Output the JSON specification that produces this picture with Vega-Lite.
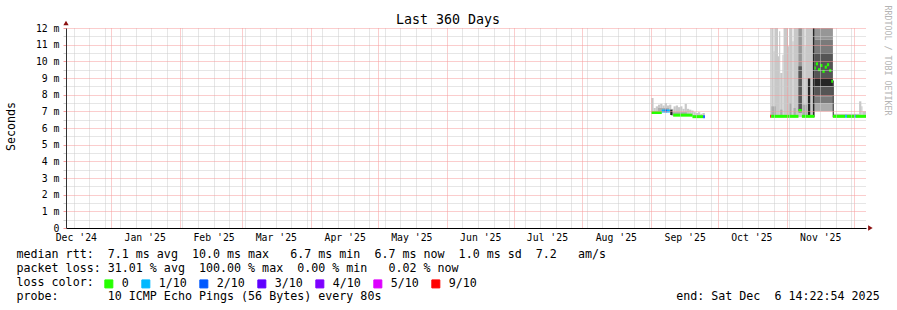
{
  "$schema": "https://vega.github.io/schema/vega-lite/v6.json",
  "width": 800,
  "height": 200,
  "autosize": {"type": "none"},
  "padding": {"left": 66, "top": 28, "right": 31, "bottom": 82},
  "background": "white",
  "title": {"text": "Last 360 Days", "font": "DejaVu Sans Mono", "fontSize": 13.3, "fontWeight": "normal", "color": "black", "anchor": "middle", "frame": "group", "dx": -18, "offset": 2, "baseline": "alphabetic", "dy": 34},
  "config": {"view": {"stroke": null}},
  "datasets": {
    "smoke": [
      {"t":"2025-09-01","t2":"2025-09-02","lo":6.9,"hi":7.8,"s":"l"},
      {"t":"2025-09-02","t2":"2025-09-03","lo":6.9,"hi":7.2,"s":"l"},
      {"t":"2025-09-03","t2":"2025-09-04","lo":6.9,"hi":7.3,"s":"l"},
      {"t":"2025-09-04","t2":"2025-09-05","lo":6.9,"hi":7.4,"s":"l"},
      {"t":"2025-09-05","t2":"2025-09-06","lo":6.95,"hi":7.45,"s":"l"},
      {"t":"2025-09-06","t2":"2025-09-07","lo":6.98,"hi":7.35,"s":"l"},
      {"t":"2025-09-07","t2":"2025-09-08","lo":6.98,"hi":7.5,"s":"l"},
      {"t":"2025-09-08","t2":"2025-09-09","lo":6.98,"hi":7.35,"s":"l"},
      {"t":"2025-09-09","t2":"2025-09-10","lo":6.95,"hi":7.4,"s":"l"},
      {"t":"2025-09-10","t2":"2025-09-11","lo":6.75,"hi":7.15,"s":"l"},
      {"t":"2025-09-11","t2":"2025-09-12","lo":6.72,"hi":7.3,"s":"l"},
      {"t":"2025-09-12","t2":"2025-09-13","lo":6.72,"hi":7.35,"s":"l"},
      {"t":"2025-09-13","t2":"2025-09-14","lo":6.72,"hi":7.25,"s":"l"},
      {"t":"2025-09-14","t2":"2025-09-15","lo":6.72,"hi":7.3,"s":"l"},
      {"t":"2025-09-15","t2":"2025-09-16","lo":6.72,"hi":7.15,"s":"l"},
      {"t":"2025-09-16","t2":"2025-09-17","lo":6.72,"hi":7.45,"s":"l"},
      {"t":"2025-09-17","t2":"2025-09-18","lo":6.72,"hi":7.15,"s":"l"},
      {"t":"2025-09-18","t2":"2025-09-19","lo":6.72,"hi":7.1,"s":"l"},
      {"t":"2025-09-19","t2":"2025-09-20","lo":6.7,"hi":7.05,"s":"l"},
      {"t":"2025-09-20","t2":"2025-09-21","lo":6.63,"hi":6.95,"s":"l"},
      {"t":"2025-09-21","t2":"2025-09-22","lo":6.63,"hi":6.9,"s":"l"},
      {"t":"2025-09-22","t2":"2025-09-23","lo":6.63,"hi":6.95,"s":"l"},
      {"t":"2025-09-23","t2":"2025-09-24","lo":6.63,"hi":6.85,"s":"l"},
      {"t":"2025-09-24","t2":"2025-09-25T02:00Z","lo":6.63,"hi":6.9,"s":"l"},
      {"t":"2025-10-24T12:00Z","t2":"2025-10-25","lo":6.65,"hi":12.5,"s":"l"},
      {"t":"2025-10-25","t2":"2025-10-26","lo":6.65,"hi":12.5,"s":"l"},
      {"t":"2025-10-26","t2":"2025-10-26T12:00Z","lo":6.65,"hi":10.6,"s":"l"},
      {"t":"2025-10-26T12:00Z","t2":"2025-10-28","lo":6.65,"hi":12.5,"s":"l"},
      {"t":"2025-10-28","t2":"2025-10-28T12:00Z","lo":6.65,"hi":10.3,"s":"l"},
      {"t":"2025-10-28T12:00Z","t2":"2025-10-29","lo":6.65,"hi":11.8,"s":"l"},
      {"t":"2025-10-29","t2":"2025-10-30","lo":6.65,"hi":9.3,"s":"l"},
      {"t":"2025-10-30","t2":"2025-10-30T12:00Z","lo":6.65,"hi":10.4,"s":"l"},
      {"t":"2025-10-30T12:00Z","t2":"2025-11-01T12:00Z","lo":6.65,"hi":12.5,"s":"l"},
      {"t":"2025-11-01T12:00Z","t2":"2025-11-02","lo":6.65,"hi":10.9,"s":"l"},
      {"t":"2025-11-02","t2":"2025-11-03T12:00Z","lo":6.65,"hi":12.5,"s":"l"},
      {"t":"2025-11-03T12:00Z","t2":"2025-11-04","lo":6.65,"hi":11.2,"s":"l"},
      {"t":"2025-11-04","t2":"2025-11-09","lo":6.65,"hi":12.5,"s":"l"},
      {"t":"2025-11-09","t2":"2025-11-09T12:00Z","lo":6.65,"hi":10.9,"s":"l"},
      {"t":"2025-11-09T12:00Z","t2":"2025-11-13T10:00Z","lo":6.65,"hi":12.5,"s":"l"},
      {"t":"2025-11-22T02:00Z","t2":"2025-12-03T12:00Z","lo":6.65,"hi":6.85,"s":"l"},
      {"t":"2025-12-03T12:00Z","t2":"2025-12-04T12:00Z","lo":6.65,"hi":7.6,"s":"l"},
      {"t":"2025-12-04T12:00Z","t2":"2025-12-05","lo":6.65,"hi":7.3,"s":"l"},
      {"t":"2025-12-05","t2":"2025-12-06T14:22:54Z","lo":6.65,"hi":7.0,"s":"l"},
      {"t":"2025-09-04","t2":"2025-09-09","lo":6.95,"hi":7.2,"s":"m"},
      {"t":"2025-09-10","t2":"2025-09-17","lo":6.75,"hi":6.95,"s":"m"},
      {"t":"2025-10-25","t2":"2025-10-27","lo":6.65,"hi":7.3,"s":"m"},
      {"t":"2025-10-29","t2":"2025-10-30","lo":6.65,"hi":7.1,"s":"m"},
      {"t":"2025-11-02","t2":"2025-11-03","lo":6.65,"hi":7.5,"s":"m"},
      {"t":"2025-11-04","t2":"2025-11-05","lo":6.65,"hi":7.2,"s":"m"},
      {"t":"2025-11-08","t2":"2025-11-10","lo":6.65,"hi":7.4,"s":"m"},
      {"t":"2025-11-22T02:00Z","t2":"2025-12-06T14:22:54Z","lo":6.65,"hi":6.76,"s":"m"},
      {"t":"2025-11-06T05:00Z","t2":"2025-11-07T18:00Z","lo":6.9,"hi":12.5,"s":"d"},
      {"t":"2025-11-06T05:00Z","t2":"2025-11-07T18:00Z","lo":7.0,"hi":9.7,"s":"e"},
      {"t":"2025-11-13T10:00Z","t2":"2025-11-21T17:00Z","lo":11.3,"hi":12.5,"s":"d"},
      {"t":"2025-11-13T10:00Z","t2":"2025-11-21T17:00Z","lo":10.5,"hi":11.3,"s":"n"},
      {"t":"2025-11-13T10:00Z","t2":"2025-11-21T17:00Z","lo":9.0,"hi":10.5,"s":"e"},
      {"t":"2025-11-13T10:00Z","t2":"2025-11-21T17:00Z","lo":8.5,"hi":9.0,"s":"k"},
      {"t":"2025-11-13T10:00Z","t2":"2025-11-21T17:00Z","lo":7.9,"hi":8.5,"s":"e"},
      {"t":"2025-11-13T10:00Z","t2":"2025-11-21T17:00Z","lo":7.5,"hi":7.9,"s":"n"},
      {"t":"2025-11-13T10:00Z","t2":"2025-11-21T17:00Z","lo":7.0,"hi":7.5,"s":"m"},
      {"t":"2025-09-09T12:00Z","t2":"2025-09-10T12:00Z","lo":6.78,"hi":7.1,"s":"k"},
      {"t":"2025-11-10T11:00Z","t2":"2025-11-11T12:00Z","lo":6.65,"hi":9.0,"s":"k"},
      {"t":"2025-11-12T17:00Z","t2":"2025-11-13T10:00Z","lo":6.65,"hi":12.5,"s":"k"},
      {"t":"2025-11-21T15:00Z","t2":"2025-11-22T02:00Z","lo":6.65,"hi":8.85,"s":"k"}
    ],
    "median": [
      {"t":"2025-09-01","t2":"2025-09-05T17:00Z","med":6.93,"loss":"0"},
      {"t":"2025-09-05T17:00Z","t2":"2025-09-07","med":7.02,"loss":"1/10"},
      {"t":"2025-09-07","t2":"2025-09-08","med":7.02,"loss":"2/10"},
      {"t":"2025-09-08","t2":"2025-09-09T08:00Z","med":7.02,"loss":"1/10"},
      {"t":"2025-09-10T20:00Z","t2":"2025-09-19T12:00Z","med":6.77,"loss":"0"},
      {"t":"2025-09-19T12:00Z","t2":"2025-09-24T08:00Z","med":6.68,"loss":"0"},
      {"t":"2025-09-24T08:00Z","t2":"2025-09-25T02:00Z","med":6.68,"loss":"2/10"},
      {"t":"2025-10-24T12:00Z","t2":"2025-10-24T22:00Z","med":6.7,"loss":"9/10"},
      {"t":"2025-10-24T22:00Z","t2":"2025-11-06T05:00Z","med":6.7,"loss":"0"},
      {"t":"2025-11-06T05:00Z","t2":"2025-11-07T18:00Z","med":7.05,"loss":"0"},
      {"t":"2025-11-07T18:00Z","t2":"2025-11-13T10:00Z","med":6.7,"loss":"0"},
      {"t":"2025-11-13T10:00Z","t2":"2025-11-14","med":9.6,"loss":"0"},
      {"t":"2025-11-14","t2":"2025-11-15","med":9.85,"loss":"0"},
      {"t":"2025-11-15","t2":"2025-11-16","med":9.5,"loss":"0"},
      {"t":"2025-11-16","t2":"2025-11-17","med":9.75,"loss":"0"},
      {"t":"2025-11-17","t2":"2025-11-18","med":9.4,"loss":"0"},
      {"t":"2025-11-18","t2":"2025-11-19","med":9.65,"loss":"0"},
      {"t":"2025-11-19","t2":"2025-11-20","med":9.8,"loss":"0"},
      {"t":"2025-11-20","t2":"2025-11-21","med":9.45,"loss":"0"},
      {"t":"2025-11-21","t2":"2025-11-21T17:00Z","med":8.8,"loss":"0"},
      {"t":"2025-11-21T17:00Z","t2":"2025-11-27T06:00Z","med":6.7,"loss":"0"},
      {"t":"2025-11-27T06:00Z","t2":"2025-11-28","med":6.7,"loss":"1/10"},
      {"t":"2025-11-28","t2":"2025-12-01T10:00Z","med":6.7,"loss":"0"},
      {"t":"2025-12-01T10:00Z","t2":"2025-12-02","med":6.7,"loss":"1/10"},
      {"t":"2025-12-02","t2":"2025-12-06T14:22:54Z","med":6.7,"loss":"0"}
    ],
    "arrowUp": [{"t":"2024-12-11T14:22:54Z","v":12.3}],
    "arrowRight": [{"t":"2025-12-08T14:00:00Z","v":0}]
  },
  "layer": [
    {
      "data": {"name": "smoke"},
      "mark": {"type": "rect", "clip": true},
      "encoding": {
        "x": {
          "field": "t", "type": "temporal",
          "scale": {"type": "utc", "domain": [{"year":2024,"month":12,"date":11,"hours":14,"minutes":22,"seconds":54,"utc":true},{"year":2025,"month":12,"date":6,"hours":14,"minutes":22,"seconds":54,"utc":true}]},
          "axis": {
            "tickCount": 500,
            "values": [
              {"year":2024,"month":12,"date":15,"utc":true},{"year":2024,"month":12,"date":16,"utc":true},{"year":2024,"month":12,"date":22,"utc":true},{"year":2024,"month":12,"date":29,"utc":true},
              {"year":2025,"month":1,"date":1,"utc":true},{"year":2025,"month":1,"date":5,"utc":true},{"year":2025,"month":1,"date":12,"utc":true},{"year":2025,"month":1,"date":16,"utc":true},{"year":2025,"month":1,"date":19,"utc":true},{"year":2025,"month":1,"date":26,"utc":true},
              {"year":2025,"month":2,"date":1,"utc":true},{"year":2025,"month":2,"date":2,"utc":true},{"year":2025,"month":2,"date":9,"utc":true},{"year":2025,"month":2,"date":16,"utc":true},{"year":2025,"month":2,"date":23,"utc":true},
              {"year":2025,"month":3,"date":1,"utc":true},{"year":2025,"month":3,"date":2,"utc":true},{"year":2025,"month":3,"date":9,"utc":true},{"year":2025,"month":3,"date":16,"utc":true},{"year":2025,"month":3,"date":23,"utc":true},{"year":2025,"month":3,"date":30,"utc":true},
              {"year":2025,"month":4,"date":1,"utc":true},{"year":2025,"month":4,"date":6,"utc":true},{"year":2025,"month":4,"date":13,"utc":true},{"year":2025,"month":4,"date":16,"utc":true},{"year":2025,"month":4,"date":20,"utc":true},{"year":2025,"month":4,"date":27,"utc":true},
              {"year":2025,"month":5,"date":1,"utc":true},{"year":2025,"month":5,"date":4,"utc":true},{"year":2025,"month":5,"date":11,"utc":true},{"year":2025,"month":5,"date":16,"utc":true},{"year":2025,"month":5,"date":18,"utc":true},{"year":2025,"month":5,"date":25,"utc":true},
              {"year":2025,"month":6,"date":1,"utc":true},{"year":2025,"month":6,"date":8,"utc":true},{"year":2025,"month":6,"date":15,"utc":true},{"year":2025,"month":6,"date":16,"utc":true},{"year":2025,"month":6,"date":22,"utc":true},{"year":2025,"month":6,"date":29,"utc":true},
              {"year":2025,"month":7,"date":1,"utc":true},{"year":2025,"month":7,"date":6,"utc":true},{"year":2025,"month":7,"date":13,"utc":true},{"year":2025,"month":7,"date":16,"utc":true},{"year":2025,"month":7,"date":20,"utc":true},{"year":2025,"month":7,"date":27,"utc":true},
              {"year":2025,"month":8,"date":1,"utc":true},{"year":2025,"month":8,"date":3,"utc":true},{"year":2025,"month":8,"date":10,"utc":true},{"year":2025,"month":8,"date":16,"utc":true},{"year":2025,"month":8,"date":17,"utc":true},{"year":2025,"month":8,"date":24,"utc":true},{"year":2025,"month":8,"date":31,"utc":true},
              {"year":2025,"month":9,"date":1,"utc":true},{"year":2025,"month":9,"date":7,"utc":true},{"year":2025,"month":9,"date":14,"utc":true},{"year":2025,"month":9,"date":16,"utc":true},{"year":2025,"month":9,"date":21,"utc":true},{"year":2025,"month":9,"date":28,"utc":true},
              {"year":2025,"month":10,"date":1,"utc":true},{"year":2025,"month":10,"date":5,"utc":true},{"year":2025,"month":10,"date":12,"utc":true},{"year":2025,"month":10,"date":16,"utc":true},{"year":2025,"month":10,"date":19,"utc":true},{"year":2025,"month":10,"date":26,"utc":true},
              {"year":2025,"month":11,"date":1,"utc":true},{"year":2025,"month":11,"date":2,"utc":true},{"year":2025,"month":11,"date":9,"utc":true},{"year":2025,"month":11,"date":16,"utc":true},{"year":2025,"month":11,"date":23,"utc":true},{"year":2025,"month":11,"date":30,"utc":true},
              {"year":2025,"month":12,"date":1,"utc":true}
            ],
            "labelExpr": "utcdate(datum.value) === 16 ? utcFormat(datum.value, \"%b '%y\") : ''",
            "labelFont": "DejaVu Sans Mono", "labelFontSize": 9.8, "labelColor": "black",
            "labelBaseline": "middle", "labelPadding": 9.5, "labelOverlap": false, "labelBound": false, "labelFlush": false,
            "ticks": false,
            "grid": true,
            "gridColor": {"condition": {"test": "utcdate(datum.value) === 1", "value": "#f79a9a"}, "value": "#cdcdcd"},
            "gridOpacity": {"condition": {"test": "utcdate(datum.value) === 16 && utcday(datum.value) !== 0", "value": 0}, "value": 1},
            "gridDash": [1, 1],
            "domainColor": "black", "domainWidth": 1,
            "title": [
              "median rtt:\u00a0\u00a07.1 ms avg\u00a0\u00a010.0 ms max\u00a0\u00a0\u00a06.7 ms min\u00a0\u00a06.7 ms now\u00a0\u00a01.0 ms sd\u00a0\u00a07.2\u00a0\u00a0\u00a0am/s",
              "packet loss: 31.01 % avg\u00a0\u00a0100.00 % max\u00a0\u00a00.00 % min\u00a0\u00a0\u00a00.02 % now",
              "loss color:",
              "probe:\u00a0\u00a0\u00a0\u00a0\u00a0\u00a0\u00a010 ICMP Echo Pings (56 Bytes) every 80s\u00a0\u00a0\u00a0\u00a0\u00a0\u00a0\u00a0\u00a0\u00a0\u00a0\u00a0\u00a0\u00a0\u00a0\u00a0\u00a0\u00a0\u00a0\u00a0\u00a0\u00a0\u00a0\u00a0\u00a0\u00a0\u00a0\u00a0\u00a0\u00a0\u00a0\u00a0\u00a0\u00a0\u00a0\u00a0\u00a0\u00a0\u00a0\u00a0\u00a0\u00a0\u00a0end: Sat Dec\u00a0\u00a06 14:22:54 2025"
            ],
            "titleX": -50, "titleY": 29, "titleAlign": "left", "titleAnchor": "start", "titleBaseline": "alphabetic",
            "titleFont": "DejaVu Sans Mono", "titleFontSize": 11.66, "titleFontWeight": "normal", "titleColor": "black", "titleLineHeight": 14, "titleLimit": 2000,
            "zindex": 1
          }
        },
        "x2": {"field": "t2"},
        "y": {
          "field": "lo", "type": "quantitative",
          "scale": {"domain": [0, 12], "nice": false, "zero": true},
          "axis": {
            "tickCount": 500,
            "values": [0,0.5,1,1.5,2,2.5,3,3.5,4,4.5,5,5.5,6,6.5,7,7.5,8,8.5,9,9.5,10,10.5,11,11.5,12],
            "labelExpr": "datum.value % 1 ? '' : (datum.value === 0 ? '0' : datum.value + ' m')",
            "labelFont": "DejaVu Sans Mono", "labelFontSize": 9.8, "labelColor": "black", "labelPadding": 4,
            "labelOverlap": false, "labelBound": false, "labelFlush": false,
            "tickSize": 3,
            "tickColor": {"condition": {"test": "datum.value % 1 === 0", "value": "#f79a9a"}, "value": "#cdcdcd"},
            "grid": true,
            "gridColor": {"condition": {"test": "datum.value % 1 === 0", "value": "#f79a9a"}, "value": "#cdcdcd"},
            "gridDash": [1, 1],
            "domainColor": "#333333",
            "title": "Seconds", "titleFont": "DejaVu Sans Mono", "titleFontSize": 11.66, "titleFontWeight": "normal", "titleColor": "black",
            "titleX": -55, "titleY": 98, "titleAngle": -90, "titleAlign": "center", "titleBaseline": "middle",
            "zindex": 1
          }
        },
        "y2": {"field": "hi"},
        "fill": {
          "field": "s", "type": "nominal",
          "scale": {"domain": ["l","m","d","n","e","k"], "range": ["#c8c8c8","#acacac","#969696","#7a7a7a","#555555","#262626"]},
          "legend": null
        }
      }
    },
    {
      "data": {"name": "median"},
      "mark": {"type": "rule", "strokeWidth": 3, "clip": true},
      "encoding": {
        "x": {"field": "t", "type": "temporal"},
        "x2": {"field": "t2"},
        "y": {
          "field": "med", "type": "quantitative",
          "axis": {
            "orient": "right", "labels": false, "ticks": false, "domain": false, "grid": false,
            "title": "RRDTOOL / TOBI OETIKER", "titleFont": "DejaVu Sans Mono", "titleFontSize": 8.3, "titleFontWeight": "normal", "titleColor": "#b4b4b4",
            "titleAngle": 90, "titleX": 20, "titleY": 32, "titleAlign": "center", "titleBaseline": "middle"
          }
        },
        "stroke": {
          "field": "loss", "type": "nominal",
          "scale": {"domain": ["0","1/10","2/10","3/10","4/10","5/10","9/10"], "range": ["#26ff00","#00b8ff","#0059ff","#5e00ff","#7e00ff","#dd00ff","#ff0000"]},
          "legend": {
            "orient": "none", "legendX": 37, "legendY": 250, "direction": "horizontal",
            "title": null,
            "symbolType": "square", "symbolSize": 64, "symbolStrokeColor": "black", "symbolStrokeWidth": 1, "symbolOpacity": 1,
            "labelFont": "DejaVu Sans Mono", "labelFontSize": 11.66, "labelColor": "black", "labelOffset": 7, "columnPadding": 10, "padding": 0,
            "encode": {"symbols": {"update": {"fill": {"scale": "stroke", "field": "value"}, "stroke": {"value": "black"}, "strokeWidth": {"value": 1}, "shape": {"value": "square"}}}}
          }
        }
      }
    },
    {
      "data": {"name": "arrowUp"},
      "mark": {"type": "point", "shape": "triangle-up", "filled": true, "color": "#8b1010", "size": 28, "opacity": 1},
      "encoding": {
        "x": {"field": "t", "type": "temporal"},
        "y": {"field": "v", "type": "quantitative", "axis": null}
      }
    },
    {
      "data": {"name": "arrowRight"},
      "mark": {"type": "point", "shape": "triangle-right", "filled": true, "color": "#8b1010", "size": 28, "opacity": 1},
      "encoding": {
        "x": {"field": "t", "type": "temporal"},
        "y": {"field": "v", "type": "quantitative", "axis": null}
      }
    }
  ],
  "resolve": {"axis": {"y": "independent"}}
}
